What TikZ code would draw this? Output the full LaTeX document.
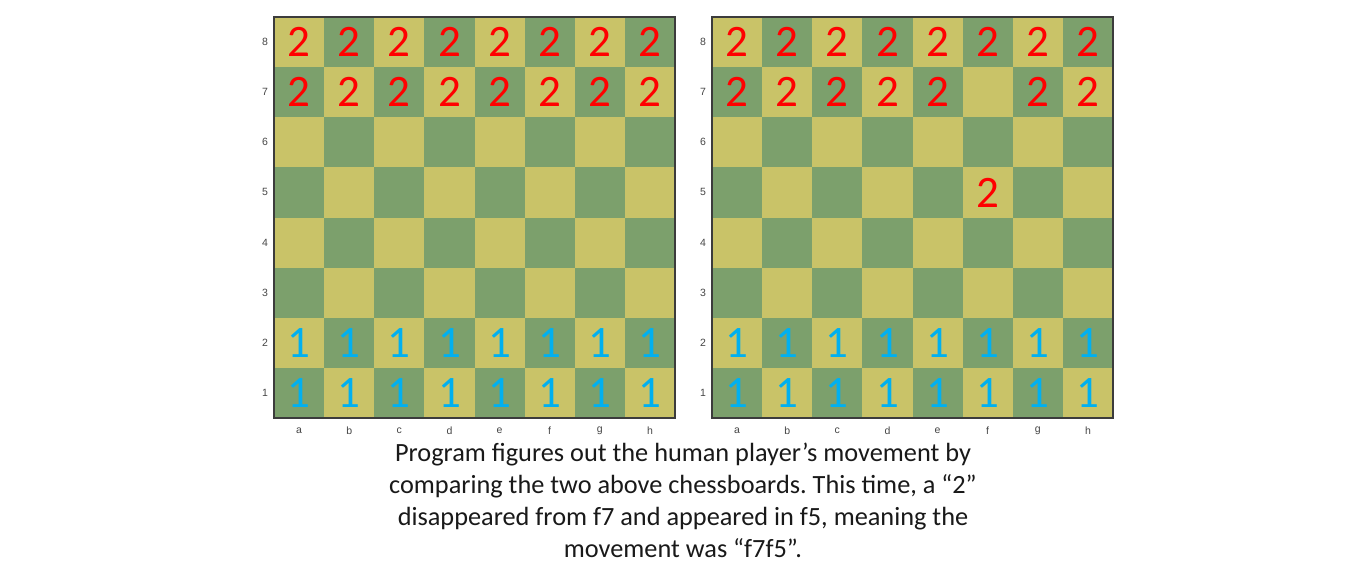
\documentclass[tikz,border=0pt]{standalone}
\usepackage{fontspec}
\setmainfont{Carlito}
\newfontfamily\labfont{Liberation Sans}
\definecolor{lightsq}{RGB}{201,195,104}
\definecolor{darksq}{RGB}{124,160,108}
\definecolor{redp}{RGB}{255,0,0}
\definecolor{bluep}{RGB}{0,176,240}
\definecolor{labgray}{RGB}{70,70,70}
\definecolor{framec}{RGB}{60,60,60}
\definecolor{capc}{RGB}{25,25,25}
\tikzset{
  sq/.style={minimum size=50.125pt, inner sep=0pt, outer sep=0pt, draw=none},
  piece/.style={inner sep=0pt, font=\fontsize{45}{45}\selectfont},
  ptwo/.style={piece, text=redp},
  pone/.style={piece, text=bluep},
  lab/.style={inner sep=0pt, text=labgray, font=\labfont\fontsize{10.5}{12}\selectfont},
  frame/.style={draw=framec, line width=1.2pt},
  caption/.style={anchor=base, inner sep=0pt, text=capc, font=\fontsize{26.3}{32}\selectfont}
}
\frenchspacing
\begin{document}
\frenchspacing
\begin{tikzpicture}[x=1pt,y=-1pt]
\useasboundingbox[fill=white] (0,0) rectangle (1364,586);
\foreach \bx/\bn in {274/A,712/B} {
  \foreach \f [count=\i from 0] in {a,b,c,d,e,f,g,h} {
    \foreach \j in {0,...,7} {
      \pgfmathtruncatemacro\rk{8-\j}
      \pgfmathparse{mod(\i+\j,2)==0?"lightsq":"darksq"}
      \edef\col{\pgfmathresult}
      \node[sq, fill=\col, anchor=north west] (\bn-\f\rk) at ({\bx+\i*50.125},{17+\j*50.125}) {};
    }
    \node[lab] (\bn-lab-\f) at ({\bx+\i*50.125+25.06},430.5) {\f};
  }
  \foreach \j in {0,...,7} {
    \pgfmathtruncatemacro\rk{8-\j}
    \node[lab] (\bn-lab-\rk) at ({\bx-9},{17+\j*50.125+25.06}) {\rk};
  }
  \draw[frame] (\bn-a8.north west) rectangle (\bn-h1.south east);
}
% pieces
\foreach \f in {a,b,c,d,e,f,g,h} {
  \node[ptwo] (A-p8\f) at (A-\f8) {2};
  \node[ptwo] (A-p7\f) at (A-\f7) {2};
  \node[pone] (A-p2\f) at (A-\f2) {1};
  \node[pone] (A-p1\f) at (A-\f1) {1};
  \node[ptwo] (B-p8\f) at (B-\f8) {2};
  \node[pone] (B-p2\f) at (B-\f2) {1};
  \node[pone] (B-p1\f) at (B-\f1) {1};
}
\foreach \f in {a,b,c,d,e,g,h} {
  \node[ptwo] (B-p7\f) at (B-\f7) {2};
}
\node[ptwo] (B-p5f) at (B-f5) {2};
% caption
\node[caption] (cap1) at (683,461) {Program figures out the human player’s movement by};
\node[caption] (cap2) at (683,493) {comparing the two above chessboards. This time, a “2”};
\node[caption] (cap3) at (683,525) {disappeared from f7 and appeared in f5, meaning the};
\node[caption] (cap4) at (683,557) {movement was “f7f5”.};
\end{tikzpicture}
\end{document}
